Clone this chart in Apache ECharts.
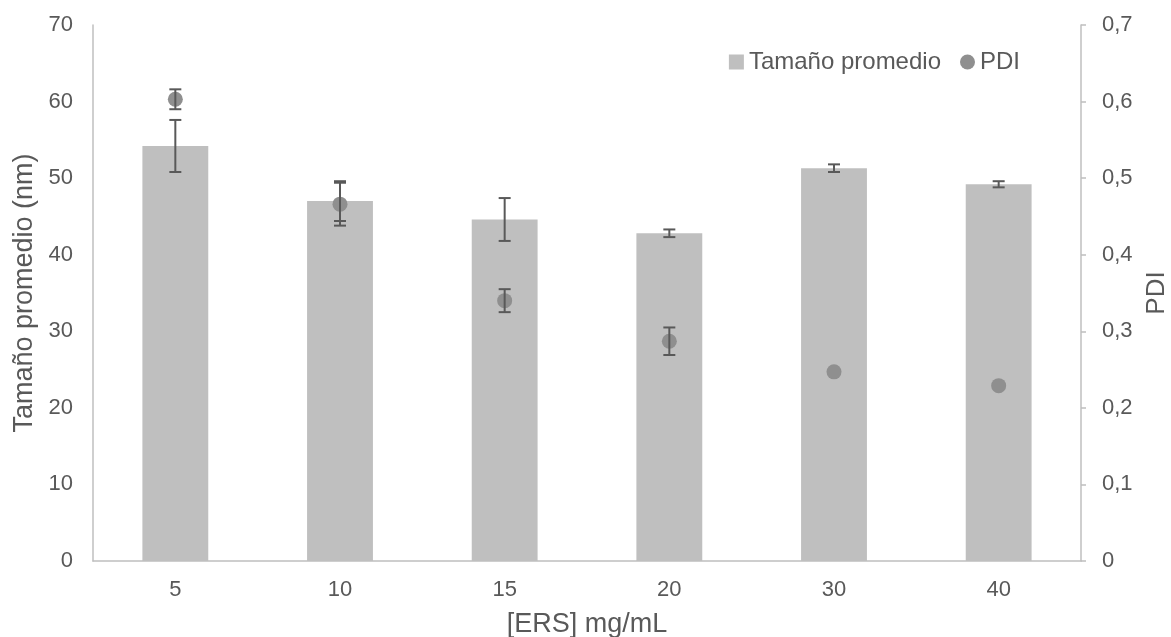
<!DOCTYPE html>
<html><head><meta charset="utf-8">
<script src="https://cdn.jsdelivr.net/npm/echarts@6/dist/echarts.min.js"></script>
<style>html,body{margin:0;padding:0;background:#fff}#c{width:1171px;height:637px}</style>
</head><body><div id="c"></div>
<script>
const categories = ['5','10','15','20','30','40'];
const sizeValues = [54.2, 47.0, 44.6, 42.8, 51.3, 49.2];
const sizeErrors = [3.4, 2.6, 2.8, 0.5, 0.5, 0.4];
const pdiValues = [0.603, 0.466, 0.340, 0.287, 0.247, 0.229];
const pdiErrors = [0.013, 0.028, 0.015, 0.018, 0, 0];
const leftTicks = [0,10,20,30,40,50,60,70];
const rightTicks = ['0','0,1','0,2','0,3','0,4','0,5','0,6','0,7'];

const font = '"Liberation Sans", Arial, sans-serif';
const txt = '#595959';
const chart = echarts.init(document.getElementById('c'));

function errItem(){
  return function(params, api){
    const i = api.value(0);
    const v = api.value(1), e = api.value(2);
    if (!e) return null;
    const top = api.coord([i, v + e]);
    const bot = api.coord([i, v - e]);
    const x = top[0], hw = 6;
    const st = {stroke:'#595959', lineWidth:2};
    return {type:'group', children:[
      {type:'line', shape:{x1:x,y1:top[1],x2:x,y2:bot[1]}, style:st},
      {type:'line', shape:{x1:x-hw,y1:top[1],x2:x+hw,y2:top[1]}, style:st},
      {type:'line', shape:{x1:x-hw,y1:bot[1],x2:x+hw,y2:bot[1]}, style:st}
    ]};
  };
}

chart.setOption({
  animation:false,
  textStyle:{fontFamily:font},
  grid:{left:93,right:90,top:25,bottom:76,containLabel:false,outerBoundsMode:'none'},
  legend:{
    data:[{name:'Tamaño promedio',icon:'rect'},{name:'PDI',icon:'circle'}],
    right:146, top:45, itemWidth:15, itemHeight:15, itemGap:19,
    textStyle:{fontSize:24,color:txt,fontFamily:font}
  },
  xAxis:{
    type:'category', data:categories,
    name:'[ERS] mg/mL', nameLocation:'middle', nameGap:50,
    nameTextStyle:{fontSize:27,color:txt},
    axisLine:{lineStyle:{color:'#bfbfbf',width:1.5}},
    axisTick:{show:false},
    axisLabel:{fontSize:22,color:txt,margin:18}
  },
  yAxis:[{
    type:'value', min:0, max:70, interval:10,
    name:'Tamaño promedio (nm)', nameLocation:'middle', nameGap:55,
    nameTextStyle:{fontSize:27,color:txt},
    axisLine:{show:true,lineStyle:{color:'#bfbfbf',width:1.5}},
    axisTick:{show:false}, splitLine:{show:false},
    axisLabel:{fontSize:22,color:txt,margin:20,formatter:function(v){return leftTicks.indexOf(v)>=0?String(v):'';}}
  },{
    type:'value', min:0, max:0.7, interval:0.1,
    name:'PDI', nameLocation:'middle', nameGap:62,
    nameTextStyle:{fontSize:26,color:txt},
    axisLine:{show:true,lineStyle:{color:'#bfbfbf',width:1.5}},
    axisTick:{show:true,length:5,lineStyle:{color:'#bfbfbf',width:1.5}}, splitLine:{show:false},
    axisLabel:{fontSize:22,color:txt,margin:21,formatter:function(v){return rightTicks[Math.round(v*10)];}}
  }],
  series:[
    {name:'Tamaño promedio', type:'bar', data:sizeValues, barWidth:'40%',
     itemStyle:{color:'#bfbfbf'}, yAxisIndex:0, z:1},
    {type:'custom', yAxisIndex:0, z:3,
     data:sizeValues.map((v,i)=>[i,v,sizeErrors[i]]),
     encode:{x:0,y:1}, renderItem:errItem()},
    {name:'PDI', type:'scatter', yAxisIndex:1, data:pdiValues, symbolSize:15,
     itemStyle:{color:'#8f8f8f',opacity:1}, z:4},
    {type:'custom', yAxisIndex:1, z:5,
     data:pdiValues.map((v,i)=>[i,v,pdiErrors[i]]),
     encode:{x:0,y:1}, renderItem:errItem()}
  ]
});
</script></body></html>
